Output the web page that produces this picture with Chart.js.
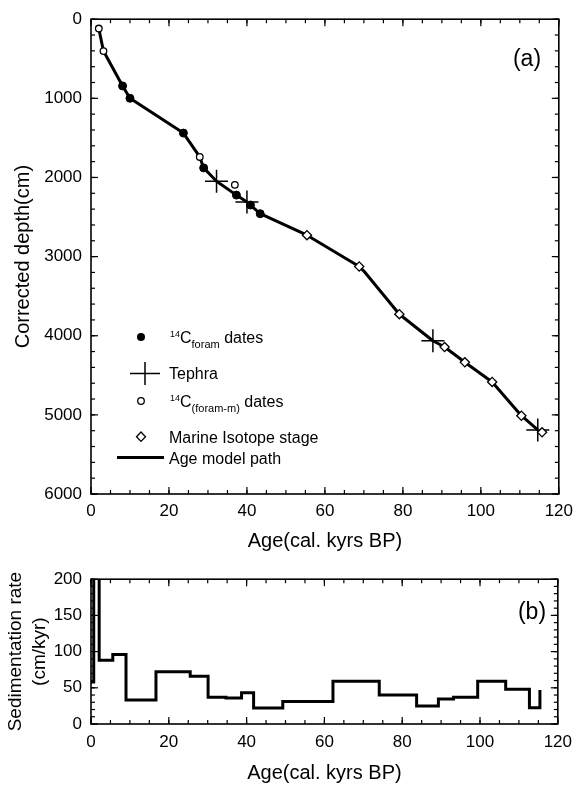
<!DOCTYPE html>
<html>
<head>
<meta charset="utf-8">
<title>Age model</title>
<script src="https://cdn.jsdelivr.net/npm/chart.js@4.4.0/dist/chart.umd.min.js"></script>
<style>
    html, body { margin: 0; padding: 0; background: #fff; }
    .panel { position: absolute; left: 0; }
    #chart-a { top: 0; }
    #chart-b { top: 560px; }
</style>
</head>
<body>
<canvas id="chart-a" class="panel" width="580" height="560" style="width:580px;height:560px"></canvas>
<canvas id="chart-b" class="panel" width="580" height="226" style="width:580px;height:226px"></canvas>
<script>
// --- DATA ---

// (a) umur (ka) vs kedalaman terkoreksi (cm)
const foramAge = [8.1, 10.0, 23.7, 28.9, 37.3, 40.9, 43.4];
const foramDepth = [843, 999, 1439, 1879, 2223, 2348, 2458];

const foramMAge = [2.0, 3.2, 27.9, 36.9];
const foramMDepth = [118, 403, 1741, 2093];

const tephraAge = [32.2, 40.0, 87.7, 114.6];
const tephraDepth = [2047, 2311, 4063, 5191];

const misAge = [55.4, 68.8, 79.1, 90.7, 95.9, 102.9, 110.4, 115.7];
const misDepth = [2730, 3125, 3728, 4143, 4336, 4584, 5011, 5220];

const pathAge = [2.0, 3.2, 8.1, 10.0, 23.7, 27.9, 28.9, 32.2, 37.3, 40.0, 43.4, 55.4, 68.8, 70.3, 79.1, 87.7, 90.7, 95.9, 102.9, 110.4, 114.6];
const pathDepth = [118, 403, 843, 999, 1439, 1741, 1879, 2047, 2223, 2311, 2458, 2730, 3125, 3200, 3728, 4063, 4143, 4336, 4584, 5011, 5191];

// (b) laju sedimentasi (cm/kyr), tiap nilai berlaku mulai umur tsb
const rateAge = [0, 0.7, 2.1, 5.6, 9.0, 16.7, 25.5, 30.1, 34.7, 38.7, 41.8, 49.3, 62.2, 74.1, 83.7, 89.3, 93.2, 99.4, 106.6, 112.7, 115.4];
const rateValue = [58, 260, 88, 96, 33, 72, 66, 37, 36, 43, 22, 31, 59, 40, 25, 34.6, 36.8, 59, 48, 22.5, 47];

// tick labels
const ageTicks = [0, 20, 40, 60, 80, 100, 120];
const depthTicks = [0, 1000, 2000, 3000, 4000, 5000, 6000];
const rateTicks = [0, 50, 100, 150, 200];

const FONT = '"Liberation Sans", Arial, Helvetica, sans-serif';
Chart.defaults.font.family = FONT;
Chart.defaults.color = '#000';

const toPoints = (xs, ys) => xs.map((x, i) => ({ x, y: ys[i] }));
const fixedTicks = (list) => (scale) => { scale.ticks = list.map(v => ({ value: v })); };

// --- PLUGIN: bingkai + tick ke dalam di keempat sisi ---

const frameTicks = {
    id: 'frameTicks',
    afterDraw(chart, args, opts) {
        const { ctx, chartArea: a, scales: { x, y } } = chart;
        ctx.save();
        ctx.strokeStyle = '#000';
        ctx.lineWidth = 1.2;
        const line = (x1, y1, x2, y2) => { ctx.beginPath(); ctx.moveTo(x1, y1); ctx.lineTo(x2, y2); ctx.stroke(); };
        const mark = (scale, step, len) => {
            for (let v = scale.min; v <= scale.max + 1e-6; v += step) {
                const p = scale.getPixelForValue(v);
                if (scale.isHorizontal()) {
                    line(p, a.bottom, p, a.bottom - len);
                    line(p, a.top, p, a.top + len);
                } else {
                    line(a.left, p, a.left + len, p);
                    line(a.right, p, a.right - len, p);
                }
            }
        };
        mark(x, opts.xMinor, 4);
        mark(x, opts.xMajor, 7);
        mark(y, opts.yMinor, 4);
        mark(y, opts.yMajor, 7);
        ctx.lineWidth = 1.6;
        ctx.strokeRect(a.left, a.top, a.right - a.left, a.bottom - a.top);

        // label panel (a) / (b)
        ctx.fillStyle = '#000';
        ctx.font = '23px ' + FONT;
        ctx.textAlign = 'center';
        ctx.textBaseline = 'middle';
        ctx.fillText(opts.tag, opts.tagX, opts.tagY);
        ctx.restore();
    }
};

// --- PLUGIN: legenda di dalam panel (a) ---

function richText(ctx, x, base, parts) {
    ctx.textAlign = 'left';
    ctx.textBaseline = 'alphabetic';
    parts.forEach(([t, kind]) => {
        const size = kind === 'sup' ? 9 : kind === 'sub' ? 11 : 16;
        const dy = kind === 'sup' ? -6 : kind === 'sub' ? 5 : 0;
        ctx.font = size + 'px ' + FONT;
        ctx.fillText(t, x, base + dy);
        x += ctx.measureText(t).width;
    });
}

const insideLegend = {
    id: 'insideLegend',
    afterDraw(chart) {
        const { ctx } = chart;
        ctx.save();
        ctx.fillStyle = '#000';
        ctx.strokeStyle = '#000';

        // titik foram (penuh)
        ctx.beginPath(); ctx.arc(141, 337, 4, 0, Math.PI * 2); ctx.fill();
        richText(ctx, 170, 342.5, [['14', 'sup'], ['C', 'n'], ['foram', 'sub'], [' dates', 'n']]);

        // tephra (silang)
        ctx.lineWidth = 1.5;
        ctx.beginPath();
        ctx.moveTo(130, 373.5); ctx.lineTo(160, 373.5);
        ctx.moveTo(145, 362); ctx.lineTo(145, 385);
        ctx.stroke();
        richText(ctx, 169, 379, [['Tephra', 'n']]);

        // foram-m (lingkaran kosong)
        ctx.lineWidth = 1.3;
        ctx.fillStyle = '#fff';
        ctx.beginPath(); ctx.arc(141, 401, 3.3, 0, Math.PI * 2); ctx.fill(); ctx.stroke();
        ctx.fillStyle = '#000';
        richText(ctx, 170, 407, [['14', 'sup'], ['C', 'n'], ['(foram-m)', 'sub'], [' dates', 'n']]);

        // MIS (belah ketupat)
        ctx.fillStyle = '#fff';
        ctx.beginPath();
        ctx.moveTo(141, 432); ctx.lineTo(145.5, 436.7); ctx.lineTo(141, 441.4); ctx.lineTo(136.5, 436.7);
        ctx.closePath(); ctx.fill(); ctx.stroke();
        ctx.fillStyle = '#000';
        richText(ctx, 169, 442.5, [['Marine Isotope stage', 'n']]);

        // garis model umur
        ctx.lineWidth = 3;
        ctx.beginPath(); ctx.moveTo(117, 457.5); ctx.lineTo(164, 457.5); ctx.stroke();
        richText(ctx, 169, 463.5, [['Age model path', 'n']]);
        ctx.restore();
    }
};

// --- PANEL (a) ---

function renderAgeModel() {
    const ctx = document.getElementById('chart-a').getContext('2d');
    return new Chart(ctx, {
        type: 'scatter',
        data: {
            datasets: [
                {
                    label: '14C foram dates',
                    data: toPoints(foramAge, foramDepth),
                    pointStyle: 'circle',
                    pointRadius: 4,
                    pointBackgroundColor: '#000',
                    pointBorderColor: '#000',
                    pointBorderWidth: 1,
                },
                {
                    label: '14C (foram-m) dates',
                    data: toPoints(foramMAge, foramMDepth),
                    pointStyle: 'circle',
                    pointRadius: 3.3,
                    pointBackgroundColor: '#fff',
                    pointBorderColor: '#000',
                    pointBorderWidth: 1.3,
                },
                {
                    label: 'Marine Isotope stage',
                    data: toPoints(misAge, misDepth),
                    pointStyle: 'rectRot',
                    pointRadius: 4.6,
                    pointBackgroundColor: '#fff',
                    pointBorderColor: '#000',
                    pointBorderWidth: 1.3,
                },
                {
                    label: 'Tephra',
                    data: toPoints(tephraAge, tephraDepth),
                    pointStyle: 'cross',
                    pointRadius: 11.5,
                    pointBorderColor: '#000',
                    pointBorderWidth: 1.5,
                },
                {
                    label: 'Age model path',
                    data: toPoints(pathAge, pathDepth),
                    showLine: true,
                    borderColor: '#000',
                    borderWidth: 3,
                    pointRadius: 0,
                    borderJoinStyle: 'round',
                },
            ]
        },
        options: {
            responsive: false,
            animation: false,
            layout: { padding: { top: 17, right: 14, left: 0, bottom: 0 } },
            plugins: {
                legend: { display: false },
                tooltip: { enabled: false },
                frameTicks: { xMajor: 20, xMinor: 5, yMajor: 1000, yMinor: 200, tag: '(a)', tagX: 527, tagY: 60 },
            },
            scales: {
                x: {
                    type: 'linear',
                    min: 0, max: 120,
                    afterBuildTicks: fixedTicks(ageTicks),
                    afterFit: (s) => { s.height = 66; },
                    grid: { display: false, drawTicks: false },
                    border: { display: false },
                    ticks: { padding: 7, font: { size: 17 }, callback: v => String(v) },
                    title: { display: true, text: 'Age(cal. kyrs BP)', font: { size: 20 }, padding: { top: 0, bottom: 7 } },
                },
                y: {
                    type: 'linear',
                    reverse: true,
                    min: 0, max: 6000,
                    afterBuildTicks: fixedTicks(depthTicks),
                    afterFit: (s) => { s.width = 91; },
                    grid: { display: false, drawTicks: false },
                    border: { display: false },
                    ticks: { padding: 9, font: { size: 17 }, callback: v => String(v) },
                    title: { display: true, text: 'Corrected depth(cm)', font: { size: 20 }, padding: { top: 11, bottom: 0 } },
                },
            }
        },
        plugins: [frameTicks, insideLegend]
    });
}

// --- PANEL (b) ---

function renderSedRate() {
    const ctx = document.getElementById('chart-b').getContext('2d');
    return new Chart(ctx, {
        type: 'scatter',
        data: {
            datasets: [{
                label: 'Sedimentation rate',
                data: toPoints(rateAge, rateValue),
                showLine: true,
                stepped: 'before', // nilai ditahan sampai titik berikutnya
                borderColor: '#000',
                borderWidth: 3,
                pointRadius: 0,
            }]
        },
        options: {
            responsive: false,
            animation: false,
            layout: { padding: { top: 16, right: 14, left: 0, bottom: 0 } },
            plugins: {
                legend: { display: false },
                tooltip: { enabled: false },
                frameTicks: { xMajor: 20, xMinor: 5, yMajor: 50, yMinor: 10, tag: '(b)', tagX: 532, tagY: 52.5 },
            },
            scales: {
                x: {
                    type: 'linear',
                    min: 0, max: 120,
                    afterBuildTicks: fixedTicks(ageTicks),
                    afterFit: (s) => { s.height = 62; },
                    grid: { display: false, drawTicks: false },
                    border: { display: false },
                    ticks: { padding: 8, font: { size: 17 }, callback: v => String(v) },
                    title: { display: true, text: 'Age(cal. kyrs BP)', font: { size: 20 }, padding: { top: 0, bottom: 1 } },
                },
                y: {
                    type: 'linear',
                    min: 0, max: 200,
                    afterBuildTicks: fixedTicks(rateTicks),
                    afterFit: (s) => { s.width = 91; },
                    grid: { display: false, drawTicks: false },
                    border: { display: false },
                    ticks: { padding: 9, font: { size: 17 }, callback: v => String(v) },
                    title: {
                        display: true,
                        text: ['Sedimentation rate', '(cm/kyr)'],
                        font: { size: 19, lineHeight: 24 / 19 },
                        padding: { top: 4, bottom: 0 },
                    },
                },
            }
        },
        plugins: [frameTicks]
    });
}

renderAgeModel();
renderSedRate();
</script>
</body>
</html>
